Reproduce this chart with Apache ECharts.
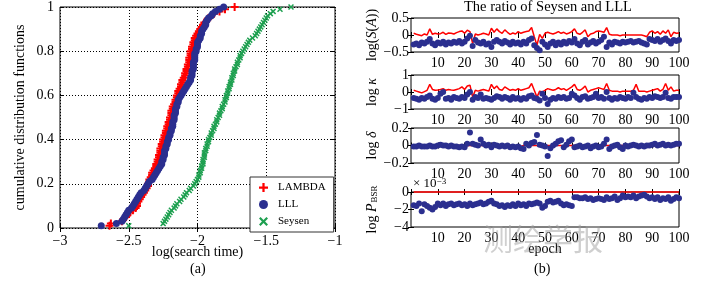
<!DOCTYPE html>
<html><head><meta charset="utf-8">
<script src="https://cdn.jsdelivr.net/npm/echarts@6/dist/echarts.min.js"></script>
<style>html,body{margin:0;padding:0;background:#fff}#c{width:723px;height:283px}</style>
</head><body><div id="c"></div>
<script>
// ---- Panel (a): sorted log(search time) for each method (CDF) ----
const lambdaTime = [-2.64,-2.63,-2.55,-2.54,-2.52,-2.51,-2.49,-2.47,-2.45,-2.44,
-2.44,-2.43,-2.42,-2.41,-2.40,-2.39,-2.38,-2.37,-2.36,-2.36,
-2.35,-2.35,-2.34,-2.33,-2.33,-2.32,-2.31,-2.30,-2.30,-2.29,
-2.29,-2.28,-2.28,-2.27,-2.27,-2.27,-2.26,-2.26,-2.25,-2.25,
-2.24,-2.24,-2.23,-2.23,-2.22,-2.22,-2.21,-2.21,-2.20,-2.20,
-2.19,-2.19,-2.19,-2.18,-2.18,-2.17,-2.16,-2.16,-2.15,-2.15,
-2.14,-2.14,-2.13,-2.12,-2.12,-2.11,-2.11,-2.10,-2.09,-2.09,
-2.08,-2.08,-2.07,-2.07,-2.06,-2.06,-2.06,-2.05,-2.05,-2.05,
-2.04,-2.04,-2.03,-2.03,-2.02,-2.02,-2.01,-2.00,-1.99,-1.98,
-1.97,-1.96,-1.95,-1.93,-1.92,-1.90,-1.88,-1.84,-1.80,-1.73];
const lllTime = [-2.70,-2.59,-2.55,-2.54,-2.53,-2.52,-2.51,-2.50,-2.48,-2.47,
-2.46,-2.45,-2.44,-2.43,-2.42,-2.41,-2.39,-2.38,-2.37,-2.36,
-2.35,-2.33,-2.32,-2.31,-2.30,-2.29,-2.28,-2.27,-2.26,-2.26,
-2.25,-2.25,-2.24,-2.24,-2.24,-2.23,-2.23,-2.22,-2.22,-2.21,
-2.21,-2.20,-2.20,-2.19,-2.19,-2.18,-2.18,-2.18,-2.17,-2.17,
-2.17,-2.16,-2.16,-2.16,-2.15,-2.15,-2.14,-2.14,-2.13,-2.12,
-2.11,-2.10,-2.09,-2.08,-2.07,-2.06,-2.05,-2.05,-2.04,-2.04,
-2.04,-2.03,-2.03,-2.03,-2.03,-2.02,-2.02,-2.02,-2.02,-2.01,
-2.01,-2.00,-2.00,-2.00,-1.99,-1.98,-1.98,-1.97,-1.97,-1.96,
-1.95,-1.94,-1.94,-1.93,-1.92,-1.90,-1.89,-1.87,-1.84,-1.81];
const seysenTime = [-2.50,-2.25,-2.24,-2.23,-2.22,-2.21,-2.20,-2.19,-2.17,-2.16,
-2.15,-2.13,-2.12,-2.10,-2.09,-2.08,-2.06,-2.05,-2.03,-2.02,
-2.01,-2.00,-1.99,-1.99,-1.98,-1.98,-1.97,-1.97,-1.96,-1.96,
-1.96,-1.95,-1.95,-1.95,-1.94,-1.94,-1.93,-1.93,-1.92,-1.92,
-1.91,-1.90,-1.90,-1.89,-1.88,-1.88,-1.87,-1.86,-1.86,-1.85,
-1.84,-1.84,-1.83,-1.82,-1.82,-1.81,-1.80,-1.80,-1.79,-1.79,
-1.78,-1.78,-1.77,-1.77,-1.76,-1.76,-1.75,-1.75,-1.74,-1.74,
-1.73,-1.73,-1.72,-1.71,-1.71,-1.70,-1.69,-1.69,-1.68,-1.67,
-1.66,-1.65,-1.64,-1.63,-1.62,-1.60,-1.58,-1.57,-1.56,-1.55,
-1.54,-1.53,-1.52,-1.51,-1.50,-1.49,-1.47,-1.45,-1.40,-1.32];
const legendNames = ['LAMBDA','LLL','Seysen'];

// ---- Panel (b): per-epoch ratios ----
const epochs = Array.from({length:100},(_,i)=>i+1);
const sARed = [0.05,0.02,0.0,-0.02,0.03,0.0,0.18,0.02,0.05,0.03,
0.04,0.08,0.02,0.06,0.05,0.03,0.07,0.10,0.12,0.05,
0.14,0.10,-0.25,0.03,0.0,0.02,0.05,0.03,0.0,0.20,
0.08,0.18,0.10,0.05,0.15,0.08,0.02,0.06,0.03,0.10,
0.05,0.08,0.10,0.12,0.22,-0.05,-0.30,0.02,-0.10,0.05,
0.08,0.05,0.03,0.06,0.10,0.05,0.08,0.03,0.06,0.10,
0.18,0.05,0.02,0.08,0.15,-0.05,0.03,0.05,0.10,0.12,
0.10,0.08,0.22,0.02,0.0,0.0,0.0,-0.02,0.0,0.0,
0.0,0.0,0.0,0.0,0.0,0.0,-0.02,-0.05,0.08,0.12,
0.05,0.10,0.02,0.12,0.05,0.15,-0.05,0.08,0.05,0.06];
const sABlue = [-0.28,-0.25,-0.30,-0.22,-0.25,-0.20,-0.12,-0.25,-0.30,-0.22,
-0.25,-0.20,-0.28,-0.22,-0.25,-0.20,-0.23,-0.18,-0.25,-0.20,
-0.10,-0.02,-0.32,-0.15,-0.22,-0.25,-0.20,-0.28,-0.25,-0.35,
-0.20,-0.15,-0.20,-0.25,-0.18,-0.22,-0.28,-0.20,-0.25,-0.22,
-0.28,-0.20,-0.25,-0.15,-0.10,-0.30,-0.38,-0.45,-0.20,-0.28,
-0.35,-0.25,-0.20,-0.30,-0.22,-0.28,-0.20,-0.25,-0.18,-0.22,
-0.12,-0.25,-0.30,-0.20,-0.15,-0.28,-0.22,-0.18,-0.25,-0.20,
-0.15,-0.05,-0.35,-0.22,-0.28,-0.20,-0.22,-0.25,-0.20,-0.22,
-0.20,-0.18,-0.22,-0.20,-0.18,-0.22,-0.25,-0.28,-0.12,-0.15,
-0.18,-0.12,-0.20,-0.15,-0.10,-0.18,-0.25,-0.15,-0.18,-0.15];
const kRed = [0.10,0.05,0.0,-0.05,0.02,0.10,0.45,0.15,0.10,0.12,
0.15,0.20,0.10,0.15,0.12,0.10,0.15,0.20,0.30,0.15,
0.35,0.40,-0.30,0.10,0.05,0.10,0.15,0.10,0.05,0.45,
0.20,0.35,0.15,0.10,0.30,0.20,0.10,0.15,0.10,0.20,
0.10,0.15,0.20,0.25,0.50,0.10,-0.30,0.05,0.0,0.10,
0.20,0.15,0.10,0.15,0.25,0.15,0.20,0.10,0.20,0.30,
0.45,0.15,0.10,0.20,0.35,0.0,0.10,0.15,0.20,0.25,
0.20,0.15,0.50,0.10,0.05,0.05,0.05,0.0,0.05,0.05,
0.05,0.05,0.10,0.45,0.05,0.05,0.05,0.0,0.05,0.10,
0.15,0.20,0.05,0.15,0.50,0.10,0.30,0.05,0.10,0.10];
const kBlue = [-0.35,-0.40,-0.45,-0.35,-0.40,-0.30,-0.20,-0.40,-0.45,-0.35,
-0.10,0.0,-0.40,-0.35,-0.45,-0.30,-0.35,-0.40,-0.30,-0.35,
-0.15,0.0,-0.45,-0.30,-0.35,-0.15,-0.40,-0.35,-0.40,-0.45,
-0.35,-0.25,-0.30,-0.40,-0.30,-0.35,-0.45,-0.30,-0.40,-0.35,
-0.45,-0.35,-0.40,-0.25,-0.20,-0.35,-0.40,-0.50,-0.10,-0.35,
-0.70,-0.45,-0.35,-0.40,-0.30,-0.35,-0.30,-0.40,-0.35,-0.10,
-0.20,-0.35,-0.45,-0.30,-0.25,-0.40,-0.35,-0.30,-0.10,-0.35,
-0.30,-0.40,0.0,-0.35,-0.45,-0.35,-0.40,-0.30,-0.35,-0.40,
-0.30,-0.35,-0.05,-0.30,-0.40,-0.45,-0.35,-0.40,-0.30,-0.35,
-0.25,-0.30,-0.35,-0.30,-0.05,-0.35,-0.40,-0.30,-0.30,-0.30];
const dRed = [0,0,0,0,0,0,0,0,0,0,
0,0,0,0,0,0,0,0,0,0,
0,0,0,0,0,0,0,0,0,0,
0,0,0,0,0,0,0,0,-0.01,-0.01,
-0.01,0,0,0,0,0,0,-0.01,-0.01,0,
0,0,0,0,0,0,-0.01,0,0,0,
0,0,0,0,0,0,0,0,0,0,
0,0,0,0,0,0,0,0,0,0,
0,0,0,0,0,0,0,0,0,0,
0,0,0,0,0,0,0,0,0,0];
const dBlue = [-0.01,-0.01,0.0,-0.01,-0.01,-0.01,0.0,-0.01,-0.01,0.0,
0.01,0.0,0.0,-0.01,0.0,-0.01,-0.01,-0.02,-0.01,-0.02,
0.02,0.15,0.02,0.01,0.0,0.07,0.02,0.0,0.01,-0.02,
0.01,0.0,-0.01,0.0,-0.01,0.0,-0.02,-0.01,-0.02,-0.01,
-0.03,-0.04,0.02,0.0,0.03,0.04,0.12,0.01,0.0,-0.01,
-0.12,-0.03,0.0,0.02,0.05,0.06,-0.02,0.01,0.05,0.07,
-0.02,-0.01,0.0,-0.02,-0.01,0.0,-0.03,-0.01,0.0,-0.02,
-0.01,0.02,0.07,-0.04,-0.01,0.0,0.01,-0.02,-0.04,0.0,
-0.01,0.0,0.01,0.0,-0.01,0.0,-0.01,0.0,0.0,0.01,
0.02,0.0,0.01,0.02,0.0,0.01,0.0,0.01,0.02,0.02];
const pRed = [0,0,0,0,0,0,0,0,0,0,
0,0,0,0,0,0,0,0,0,0,
0,0,0,0,0,0,0,0,0,0,
0,0,0,0,0,0,0,0,0,0,
0,0,0,0,0,0,0,0,0,0,
0,0,0,0,0,0,0,0,0,0,
0,0,0,0,0,0,0,0,0,0,
0,0,0,0,0,0,0,0,0,0,
0,0,0,0,0,0,0,0,0,0,
0,0,0,0,0,0,0,0,0,0];
const pBlue = [-1.5,-1.6,-1.3,-2.2,-1.4,-1.6,-1.8,-2.0,-1.7,-1.3,
-1.5,-1.3,-1.6,-1.4,-1.3,-1.5,-1.4,-1.3,-1.5,-1.4,
-1.6,-1.3,-1.5,-1.4,-1.3,-1.2,-1.4,-1.3,-1.1,-1.0,
-1.3,-1.4,-1.6,-1.5,-1.7,-1.5,-1.6,-1.4,-1.6,-1.3,
-1.5,-1.4,-1.6,-1.3,-1.4,-1.3,-1.2,-1.3,-1.8,-1.6,
-1.1,-1.0,-1.2,-1.1,-1.0,-1.3,-1.5,-1.4,-1.5,-1.6,
-0.6,-0.6,-0.7,-0.7,-0.6,-0.8,-0.7,-0.9,-0.8,-0.7,
-0.8,-0.9,-0.6,-0.8,-0.7,-0.5,-0.9,-0.7,-0.4,-0.6,
-0.5,-0.6,-0.4,-0.7,-0.5,-0.4,-0.3,-0.5,-0.7,-0.6,
-0.8,-0.6,-0.9,-0.7,-0.8,-0.6,-1.0,-0.8,-0.6,-0.7];
const subplotRanges = [[-0.5,0.5,0.5],[-1,1,1],[-0.2,0.2,0.2],[-4,0,2]];

const FONT = 'Liberation Serif';
const RED = '#ff0000', BLUE = '#2b2f8f', GREEN = '#1ea050';
const plusPath = 'path://M3,0H5V3H8V5H5V8H3V5H0V3H3Z';
const crossPath = 'path://M0,1.4L1.4,0L4,2.6L6.6,0L8,1.4L5.4,4L8,6.6L6.6,8L4,5.4L1.4,8L0,6.6L2.6,4Z';
const minus = v => String(v).replace('-', '\u2212');

const grids = [
  {left:60, top:7, width:275, height:221},
  {left:411, top:18, width:268, height:34},
  {left:411, top:75, width:268, height:34},
  {left:411, top:128, width:268, height:35},
  {left:411, top:192, width:268, height:35}
].map(g => Object.assign({show:true, borderColor:'#000', borderWidth:1}, g));

const dotted = {show:true, lineStyle:{color:'#000', width:1, type:[1,2]}};
const xAxis = [], yAxis = [];
xAxis.push({gridIndex:0, type:'value', min:-3, max:-1, interval:0.5, position:'bottom', z:1,
  axisLine:{show:false}, axisTick:{inside:true, length:4, lineStyle:{color:'#000'}},
  axisLabel:{fontFamily:FONT, fontSize:14, color:'#000', margin:6, formatter:minus},
  splitLine:dotted,
  name:'log(search time)', nameLocation:'middle', nameGap:17, nameMoveOverlap:false,
  nameTextStyle:{fontFamily:FONT, fontSize:14, color:'#000'}});
xAxis.push({gridIndex:0, type:'value', min:-3, max:-1, interval:0.5, position:'top',
  axisLine:{show:false}, axisTick:{inside:true, length:4, lineStyle:{color:'#000'}},
  axisLabel:{show:false}, splitLine:{show:false}});
yAxis.push({gridIndex:0, type:'value', min:0, max:1, interval:0.2, position:'left', z:1,
  axisLine:{show:false}, axisTick:{inside:true, length:4, lineStyle:{color:'#000'}},
  axisLabel:{fontFamily:FONT, fontSize:14, color:'#000', margin:6},
  splitLine:dotted,
  name:'cumulative distribution functions', nameLocation:'middle', nameGap:33, nameRotate:90,
  nameMoveOverlap:false,
  nameTextStyle:{fontFamily:FONT, fontSize:14, color:'#000'}});
yAxis.push({gridIndex:0, type:'value', min:0, max:1, interval:0.2, position:'right',
  axisLine:{show:false}, axisTick:{inside:true, length:4, lineStyle:{color:'#000'}},
  axisLabel:{show:false}, splitLine:{show:false}});

const yNames = ['log({i|S}({i|A}))', 'log {i|\u03ba}', 'log {i|\u03b4}', 'log {i|P}{s|BSR}'];
for (let k = 1; k <= 4; k++) {
  const [mn, mx, iv] = subplotRanges[k-1];
  xAxis.push({gridIndex:k, type:'value', min:0, max:100, interval:10, position:'bottom',
    axisLine:{show:false}, axisTick:{inside:true, length:3, lineStyle:{color:'#000'}},
    axisLabel:{fontFamily:FONT, fontSize:14, color:'#000', margin:4,
      formatter: v => v === 0 ? '' : String(v)},
    splitLine:{show:false},
    name: k === 4 ? 'epoch' : '', nameLocation:'middle', nameGap:15, nameMoveOverlap:false,
    nameTextStyle:{fontFamily:FONT, fontSize:14, color:'#000'}});
  xAxis.push({gridIndex:k, type:'value', min:0, max:100, interval:10, position:'top',
    axisLine:{show:false}, axisTick:{inside:true, length:3, lineStyle:{color:'#000'}},
    axisLabel:{show:false}, splitLine:{show:false}});
  yAxis.push({gridIndex:k, type:'value', min:mn, max:mx, interval:iv, position:'left',
    axisLine:{show:false}, axisTick:{inside:true, length:3, lineStyle:{color:'#000'}},
    axisLabel:{fontFamily:FONT, fontSize:14, color:'#000', margin:2, formatter:minus},
    splitLine:{show:false},
    name: yNames[k-1], nameLocation:'middle', nameGap:32, nameRotate:90, nameMoveOverlap:false,
    nameTextStyle:{fontFamily:FONT, fontSize:14, color:'#000',
      rich:{i:{fontFamily:FONT, fontSize:14, fontStyle:'italic', color:'#000'},
            s:{fontFamily:FONT, fontSize:9, color:'#000', verticalAlign:'bottom', padding:[0,0,0,1]}}}});
  yAxis.push({gridIndex:k, type:'value', min:mn, max:mx, interval:iv, position:'right',
    axisLine:{show:false}, axisTick:{inside:true, length:3, lineStyle:{color:'#000'}},
    axisLabel:{show:false}, splitLine:{show:false}});
}

const cdf = arr => arr.map((v,i) => [v, (i+1)/arr.length]);
const byEpoch = arr => arr.map((v,i) => [epochs[i], v]);

const series = [
  {name:legendNames[0], type:'scatter', xAxisIndex:0, yAxisIndex:0, data:cdf(lambdaTime),
   symbol:plusPath, symbolSize:8, itemStyle:{color:RED, opacity:1}, z:3},
  {name:legendNames[1], type:'scatter', xAxisIndex:0, yAxisIndex:0, data:cdf(lllTime),
   symbol:'circle', symbolSize:7, itemStyle:{color:BLUE, opacity:1}, z:4},
  {name:legendNames[2], type:'scatter', xAxisIndex:0, yAxisIndex:0, data:cdf(seysenTime),
   symbol:crossPath, symbolSize:6, itemStyle:{color:GREEN, opacity:1}, z:5}
];
const reds = [sARed, kRed, dRed, pRed], blues = [sABlue, kBlue, dBlue, pBlue];
for (let k = 1; k <= 4; k++) {
  series.push({type:'line', xAxisIndex:2*k, yAxisIndex:2*k, data:byEpoch(reds[k-1]),
    symbol:'none', clip:false, lineStyle:{color:RED, width:1.5}, z:3, silent:true});
  series.push({type:'scatter', xAxisIndex:2*k, yAxisIndex:2*k, data:byEpoch(blues[k-1]),
    symbol:'circle', symbolSize:6, itemStyle:{color:BLUE, opacity:1}, z:4, silent:true});
}

const chart = echarts.init(document.getElementById('c'), null, {renderer:'canvas'});
chart.setOption({
  animation:false,
  backgroundColor:'#fff',
  grid: grids, xAxis, yAxis, series,
  legend:{data:legendNames, orient:'vertical', left:250, top:177, itemWidth:9, itemHeight:9, itemGap:6,
    padding:[5,8,5,9], borderColor:'#333', borderWidth:1, backgroundColor:'#fff', z:10,
    textStyle:{fontFamily:FONT, fontSize:11, color:'#000', padding:[0,0,0,5]}},
  graphic:[
    {type:'text', left:464, top:0, style:{text:'The ratio of Seysen and LLL', fontFamily:FONT, fontSize:14.5, fill:'#000'}, z:10},
    {type:'text', left:413, top:177, style:{rich:{a:{fontFamily:FONT, fontSize:13, fill:'#000'}, b:{fontFamily:FONT, fontSize:9, fill:'#000', verticalAlign:'top'}}, text:'{a|\u00d7 10}{b|\u22123}', fill:'#000'}, z:10},
    {type:'text', left:190, top:262, style:{text:'(a)', fontFamily:FONT, fontSize:14, fill:'#000'}, z:10},
    {type:'text', left:534, top:262, style:{text:'(b)', fontFamily:FONT, fontSize:14, fill:'#000'}, z:10},
    {type:'text', left:483, top:224, style:{text:'\u6d4b\u7ed8\u5b66\u62a5', fontFamily:'Noto Sans CJK SC', fontSize:30, fill:'rgba(160,160,160,0.5)'}, z:20}
  ]
});
</script></body></html>
